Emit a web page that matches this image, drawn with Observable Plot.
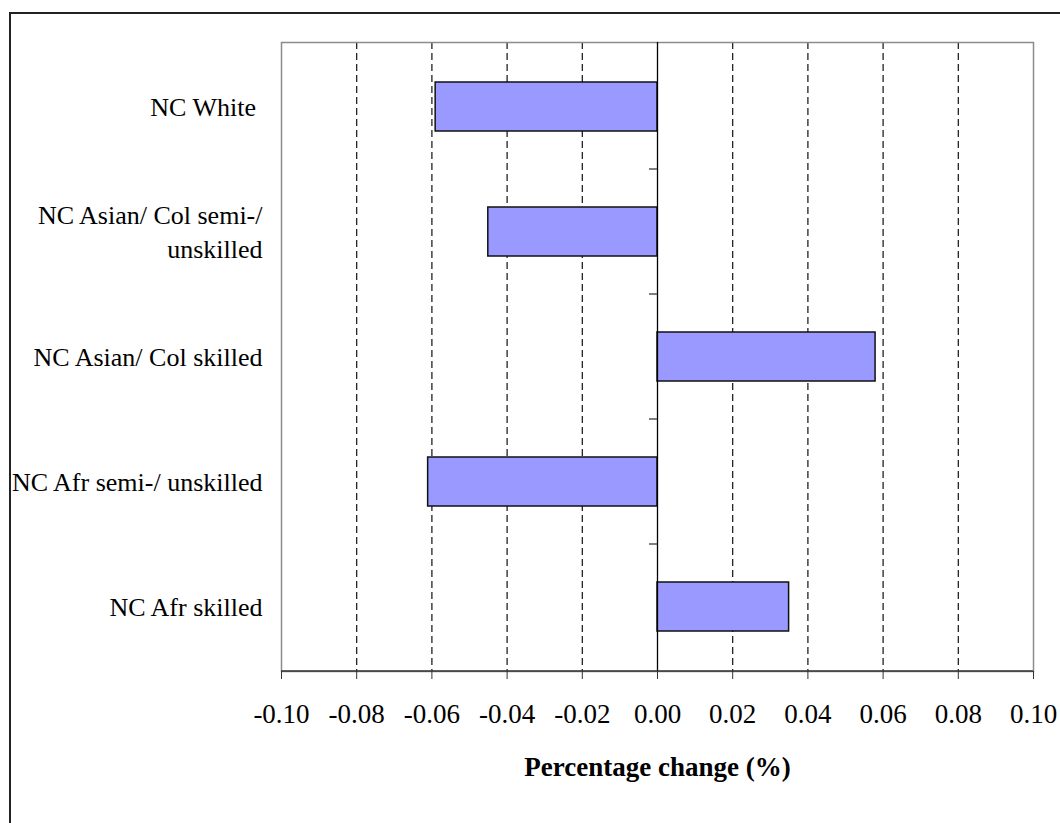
<!DOCTYPE html>
<html>
<head>
<meta charset="utf-8">
<script src="https://cdn.jsdelivr.net/npm/d3@7"></script>
<script src="https://cdn.jsdelivr.net/npm/@observablehq/plot@0.6"></script>
<style>
  html, body { margin: 0; padding: 0; background: #fff; overflow: hidden; }
  #wrap { position: relative; width: 1060px; height: 823px; overflow: hidden; }
  #border { position: absolute; left: 9px; top: 12px; width: 1080px; height: 840px; border: 2px solid #222; box-sizing: border-box; }
  #chart { position: absolute; left: 0; top: 0; }
</style>
</head>
<body>
<div id="wrap"><div id="border"></div><div id="chart"></div></div>
<script>
const categories = [
  "NC White\u00a0",
  "NC Asian/ Col semi-/\nunskilled",
  "NC Asian/ Col skilled",
  "NC Afr semi-/ unskilled",
  "NC Afr skilled"
];
const values = [-0.059, -0.045, 0.058, -0.061, 0.035];
const xTicks = [-0.10, -0.08, -0.06, -0.04, -0.02, 0.00, 0.02, 0.04, 0.06, 0.08, 0.10];
const gridTicks = [-0.08, -0.06, -0.04, -0.02, 0.02, 0.04, 0.06, 0.08];
const xLabel = "Percentage change (%)";

const data = categories.map((c, i) => ({category: c, value: values[i]}));
const font = "'Liberation Serif', 'Times New Roman', Times, serif";

const plot = Plot.plot({
  width: 1060,
  height: 823,
  marginLeft: 281,
  marginRight: 27,
  marginTop: 42,
  marginBottom: 152,
  style: {fontFamily: font, fontSize: "26px", color: "#000", background: "transparent", overflow: "visible"},
  x: {domain: [-0.1, 0.1], ticks: xTicks},
  y: {domain: categories, paddingInner: 0.61, paddingOuter: 0.305, axis: null},
  marks: [
    Plot.ruleX(gridTicks, {stroke: "#111", strokeWidth: 1.2, strokeDasharray: "7,4"}),
    Plot.frame({stroke: "#8c8c8c", strokeWidth: 1.5}),
    Plot.barX(data, {x: "value", y: "category", fill: "#9999ff", stroke: "#111", strokeWidth: 1.5}),
    Plot.ruleX([0], {stroke: "#000", strokeWidth: 1.3}),
    Plot.axisX(xTicks, {tickSize: 8, tickPadding: 24, tickFormat: d => d.toFixed(2), fontSize: 27, label: null, stroke: "#333"}),
    Plot.text([xLabel], {frameAnchor: "bottom", dy: 104, fontWeight: "bold", fontSize: 27, text: d => d}),
    Plot.text(data, {y: "category", text: "category", frameAnchor: "left", dx: -19, dy: -2, textAnchor: "end", lineHeight: 1.32, fontSize: 26, ariaLabel: "cat-labels"})
  ]
});

document.getElementById("chart").appendChild(plot);

// decorations derived from the library's scales
const svg = d3.select(plot);
const xs = plot.scale("x");
const ys = plot.scale("y");
const x0 = xs.apply(0);
const [xl, xr] = xs.range;
const yBottom = ys.range[1];
const halfGap = (ys.step - ys.bandwidth) / 2;
const deco = svg.append("g");
deco.append("line").attr("x1", xl).attr("x2", xr).attr("y1", yBottom).attr("y2", yBottom)
  .attr("stroke", "#333").attr("stroke-width", 1.5);
categories.slice(1).forEach(c => {
  const yb = ys.apply(c) - halfGap;
  deco.append("line").attr("x1", x0 - 8).attr("x2", x0).attr("y1", yb).attr("y2", yb)
    .attr("stroke", "#555").attr("stroke-width", 1.5);
});

// center multi-line category labels (as in the original)
svg.selectAll('g[aria-label="cat-labels"] text').each(function() {
  const tspans = this.querySelectorAll("tspan");
  if (tspans.length > 1) {
    let w = 0;
    tspans.forEach(t => { w = Math.max(w, t.getComputedTextLength()); });
    this.setAttribute("text-anchor", "middle");
    const tr = this.getAttribute("transform") || "";
    this.setAttribute("transform", tr + ` translate(${-w / 2},0)`);
  }
});
</script>
</body>
</html>
